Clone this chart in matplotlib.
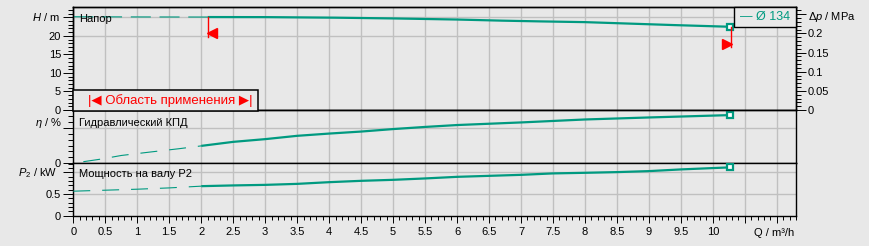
import matplotlib.pyplot as plt
from matplotlib.ticker import FixedLocator, MultipleLocator, FixedFormatter, FuncFormatter
from matplotlib.patches import Rectangle

# --- data ---
H_q = [0, 1.0, 2.1, 3.0, 4.1, 5.0, 6.0, 6.7, 7.3, 8.0, 8.7, 9.4, 10.27]
H_m = [25.15, 25.1, 25.07, 25.05, 24.9, 24.7, 24.4, 24.1, 23.9, 23.7, 23.3, 22.9, 22.45]

eta_q = [0, 0.15, 0.44, 0.75, 1.2, 1.65, 2.0, 2.5, 3.0, 3.5, 4.0, 4.5, 5.0, 5.5, 6.0, 7.0, 8.0, 9.0, 10.27]
eta = [0, 1.3, 3.6, 6.6, 9.5, 12.3, 14.7, 18.1, 20.4, 23.2, 25.1, 26.8, 28.9, 30.7, 32.3, 34.5, 37.0, 38.7, 40.7]

p2_q = [0, 0.5, 1.0, 1.5, 2.0, 2.5, 3.0, 3.5, 4.0, 4.5, 5.0, 5.5, 6.0, 6.5, 7.0, 7.5, 8.0, 8.5, 9.0, 9.5, 10.0, 10.27]
p2 = [0.567, 0.59, 0.613, 0.643, 0.683, 0.70, 0.713, 0.736, 0.775, 0.806, 0.829, 0.861, 0.898, 0.921,
      0.944, 0.977, 0.991, 1.007, 1.03, 1.069, 1.10, 1.116]

q_min, q_max = 2.1, 10.29          # area of application
h_ticks = [0, 5, 10, 15, 20, 25]
h_labels = ['0', '5', '10', '15', '20', '']
dp_ticks = [0, 0.05, 0.1, 0.15, 0.2, 0.25]
dp_labels = ['0', '0.05', '0.1', '0.15', '0.2', '']
eta_ticks = [0, 30, 45]
eta_labels = ['0', '', '']
p2_ticks = [0, 0.5, 1.0]
p2_labels = ['0', '0.5', '']
h_grid = [20, 25]
eta_grid = [30]
p2_grid = [0.5, 1.0]

plt.rcParams['font.family'] = ['Liberation Sans', 'DejaVu Sans']
plt.rcParams['mathtext.fontset'] = 'custom'
plt.rcParams['mathtext.rm'] = 'Liberation Sans'
plt.rcParams['mathtext.it'] = 'Liberation Sans:italic'
plt.rcParams['lines.scale_dashes'] = False

BG = '#e8e8e8'
GRID = '#c0c0c0'
TEAL = '#009a80'
RED = '#ff0000'
W, H = 869, 246


def box(x0, y0, x1, y1):
    return [x0 / W, 1 - y1 / H, (x1 - x0) / W, (y1 - y0) / H]


def fx(x):
    return x / W


def fy(y):
    return 1 - y / H


fig = plt.figure(figsize=(8.69, 2.46), dpi=100, facecolor=BG)
ax_h = fig.add_axes(box(73.3, 7.3, 796, 110))
ax_e = fig.add_axes(box(73.3, 110, 796, 163.3), sharex=ax_h)
ax_p = fig.add_axes(box(73.3, 163.3, 796, 215.8), sharex=ax_h)
ax_dp = ax_h.twinx()

for ax in (ax_h, ax_e, ax_p):
    ax.set_facecolor(BG)
    ax.set_axisbelow(True)
    for s in ax.spines.values():
        s.set_linewidth(1.0)
    ax.grid(axis='x', color=GRID, lw=1.0)
    ax.tick_params(axis='y', which='major', length=7.2, width=0.7, pad=1.5, labelsize=8)
    ax.tick_params(axis='y', which='minor', length=3.6, width=0.7)
for s in ax_dp.spines.values():
    s.set_linewidth(1.0)

ax_h.set_xlim(0, 11.3)
ax_h.xaxis.set_major_locator(MultipleLocator(0.5))
ax_h.xaxis.set_minor_locator(MultipleLocator(0.1))
ax_h.xaxis.set_major_formatter(FuncFormatter(lambda v, p: '%g' % v if v <= 10.01 else ''))
for ax in (ax_h, ax_e):
    ax.tick_params(axis='x', which='both', length=0, labelbottom=False)
ax_p.tick_params(axis='x', which='major', length=5, width=0.7, pad=3, labelsize=8)
ax_p.tick_params(axis='x', which='minor', length=2.9, width=0.7)

# top panel: head / pressure
ax_h.set_ylim(0, 27.7)
ax_h.yaxis.set_major_locator(FixedLocator(h_ticks))
ax_h.yaxis.set_major_formatter(FixedFormatter(h_labels))
ax_h.yaxis.set_minor_locator(MultipleLocator(1))
ax_dp.set_ylim(0, 0.268)
ax_dp.yaxis.set_major_locator(FixedLocator(dp_ticks))
ax_dp.yaxis.set_major_formatter(FixedFormatter(dp_labels))
ax_dp.yaxis.set_minor_locator(MultipleLocator(0.01))
ax_dp.tick_params(axis='y', which='major', length=7.2, width=0.7, pad=1.5, labelsize=8)
ax_dp.tick_params(axis='y', which='minor', length=3.6, width=0.7)
for lvl in h_grid:
    ax_h.axhline(lvl, color=GRID, lw=1.0, zorder=0.5)

# middle panel: efficiency
ax_e.set_ylim(0, 45)
ax_e.yaxis.set_major_locator(FixedLocator(eta_ticks))
ax_e.yaxis.set_major_formatter(FixedFormatter(eta_labels))
ax_e.yaxis.set_minor_locator(MultipleLocator(5))
for lvl in eta_grid:
    ax_e.axhline(lvl, color=GRID, lw=1.0, zorder=0.5)

# bottom panel: shaft power
ax_p.set_ylim(0, 1.21)
ax_p.yaxis.set_major_locator(FixedLocator(p2_ticks))
ax_p.yaxis.set_major_formatter(FixedFormatter(p2_labels))
ax_p.yaxis.set_minor_locator(MultipleLocator(0.1))
for lvl in p2_grid:
    ax_p.axhline(lvl, color=GRID, lw=1.0, zorder=0.5)


def curve(ax, q, v, q_split, dashes, offset):
    i = q.index(q_split)
    ax.plot(q[:i + 1], v[:i + 1], color=TEAL, lw=0.8, linestyle=(offset, dashes), zorder=3)
    ax.plot(q[i:], v[i:], color=TEAL, lw=1.6, solid_capstyle='butt', zorder=3)
    ax.plot(q[-1], v[-1], marker='s', ms=5, mfc='white', mec=TEAL, mew=1.6, zorder=4)


curve(ax_h, H_q, H_m, 2.1, (14.4, 6.3), 0)
curve(ax_e, eta_q, eta, 2.0, (12.2, 8.6), 13.5)
curve(ax_p, p2_q, p2, 2.0, (12.2, 8.6), 0)

# area of application markers
ax_h.plot([q_min, q_min], [25.07, 19.6], color=RED, lw=1.0, zorder=5)
ax_h.plot(q_min + 0.07, 20.7, marker='<', ms=6.5, color=RED, zorder=5)
ax_h.plot([q_max, q_max], [22.45, 16.9], color=RED, lw=1.0, zorder=5)
ax_h.plot(q_max - 0.07, 17.8, marker='>', ms=6.5, color=RED, zorder=5)

# curve names
fig.text(fx(79), fy(19.5), 'Напор', fontsize=8, va='center', ha='left')
fig.text(fx(79), fy(123.3), 'Гидравлический КПД', fontsize=8, va='center', ha='left')
fig.text(fx(79), fy(174.3), 'Мощность на валу P2', fontsize=8, va='center', ha='left')

# axis labels
fig.text(fx(60), fy(17.3), r'$H$ / m', fontsize=8, va='center', ha='right')
fig.text(fx(61.7), fy(123), r'$\eta$ / %', fontsize=8, va='center', ha='right')
fig.text(fx(57), fy(173.3), r'$P_2$ / kW', fontsize=8, va='center', ha='right')
fig.text(fx(807.5), fy(17.3), r'$\Delta p$ / MPa', fontsize=8, va='center', ha='left')
fig.text(fx(794), fy(233), 'Q / m³/h', fontsize=8, va='center', ha='right')

# legend box
fig.add_artist(Rectangle((fx(734.3), fy(27.3)), (796 - 734.3) / W, 20 / H, transform=fig.transFigure,
                         facecolor=BG, edgecolor='black', lw=1.0, zorder=6))
fig.text(fx(765), fy(17.5), '— Ø 134', fontsize=9, color=TEAL, va='center', ha='center', zorder=7)

# area of application box
fig.add_artist(Rectangle((fx(73.3), fy(110.5)), (258 - 73.3) / W, 20.5 / H, transform=fig.transFigure,
                         facecolor=BG, edgecolor='black', lw=1.1, zorder=6))
fig.text(fx(170.5), fy(100.5), '|◀ Область применения ▶|', fontsize=9.5, color=RED,
         va='center', ha='center', zorder=7)

fig.savefig('out.png', dpi=100, facecolor=BG)
